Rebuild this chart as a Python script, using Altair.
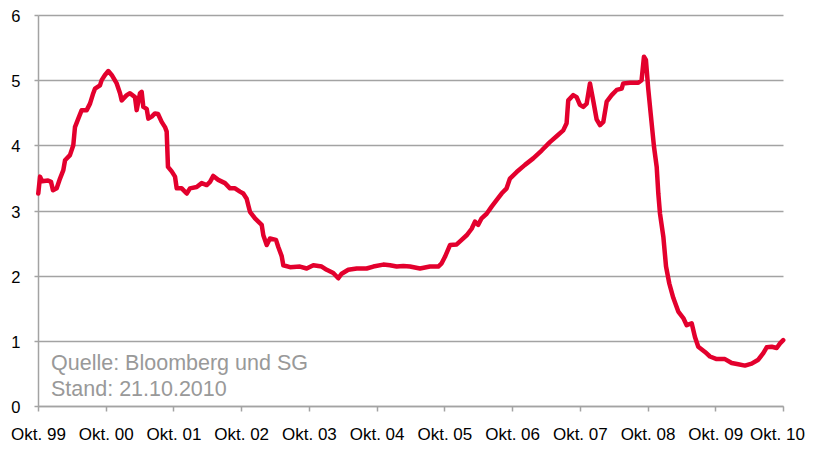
import altair as alt
import pandas as pd

# Dekade Okt. 1999 - Okt. 2010 (Jahr als Dezimalzahl) und Zinssatz in %
jahr = [
    1999.804, 1999.830, 1999.859, 1999.948, 1999.992, 2000.021, 2000.076, 2000.125,
    2000.174, 2000.199, 2000.272, 2000.321, 2000.346, 2000.395, 2000.445, 2000.519,
    2000.568, 2000.616, 2000.642, 2000.715, 2000.740, 2000.789, 2000.838, 2000.888,
    2000.962, 2001.011, 2001.036, 2001.110, 2001.158, 2001.232, 2001.257, 2001.306,
    2001.331, 2001.355, 2001.405, 2001.429, 2001.479, 2001.527, 2001.572, 2001.626,
    2001.675, 2001.700, 2001.719, 2001.774, 2001.823, 2001.848, 2001.922, 2001.996,
    2002.044, 2002.143, 2002.217, 2002.291, 2002.340, 2002.388, 2002.462, 2002.561,
    2002.635, 2002.709, 2002.782, 2002.831, 2002.881, 2002.905, 2002.930, 2003.004,
    2003.053, 2003.103, 2003.127, 2003.177, 2003.225, 2003.314, 2003.348, 2003.398,
    2003.422, 2003.521, 2003.668, 2003.767, 2003.865, 2003.989, 2004.063, 2004.160,
    2004.234, 2004.284, 2004.381, 2004.506, 2004.652, 2004.751, 2004.898, 2004.997,
    2005.096, 2005.193, 2005.292, 2005.440, 2005.587, 2005.710, 2005.760, 2005.809,
    2005.883, 2005.982, 2006.055, 2006.129, 2006.203, 2006.252, 2006.300, 2006.350,
    2006.424, 2006.498, 2006.571, 2006.645, 2006.719, 2006.768, 2006.867, 2006.990,
    2007.112, 2007.236, 2007.358, 2007.457, 2007.555, 2007.605, 2007.629, 2007.703,
    2007.753, 2007.802, 2007.851, 2007.901, 2007.950, 2007.999, 2008.048, 2008.098,
    2008.147, 2008.197, 2008.270, 2008.344, 2008.418, 2008.441, 2008.540, 2008.663,
    2008.712, 2008.747, 2008.776, 2008.810, 2008.846, 2008.895, 2008.935, 2008.959,
    2008.984, 2009.033, 2009.073, 2009.121, 2009.180, 2009.254, 2009.328, 2009.378,
    2009.452, 2009.500, 2009.549, 2009.648, 2009.722, 2009.821, 2009.943, 2010.042,
    2010.140, 2010.238, 2010.337, 2010.435, 2010.509, 2010.559, 2010.633, 2010.707,
    2010.756, 2010.803,
]
zins = [
    3.26, 3.52, 3.45, 3.46, 3.44, 3.31, 3.34, 3.49,
    3.62, 3.77, 3.85, 4.00, 4.28, 4.41, 4.54, 4.54,
    4.64, 4.80, 4.87, 4.92, 5.00, 5.08, 5.14, 5.08,
    4.95, 4.80, 4.69, 4.77, 4.80, 4.74, 4.54, 4.80,
    4.82, 4.59, 4.56, 4.41, 4.44, 4.49, 4.48, 4.36,
    4.28, 4.21, 3.67, 3.60, 3.52, 3.34, 3.34, 3.26,
    3.34, 3.36, 3.42, 3.39, 3.44, 3.53, 3.47, 3.42,
    3.34, 3.34, 3.29, 3.26, 3.18, 3.08, 2.98, 2.88,
    2.83, 2.78, 2.62, 2.47, 2.57, 2.55, 2.44, 2.30,
    2.16, 2.13, 2.14, 2.11, 2.16, 2.14, 2.09, 2.04,
    1.96, 2.03, 2.09, 2.11, 2.11, 2.14, 2.17, 2.16,
    2.14, 2.15, 2.14, 2.11, 2.14, 2.14, 2.19, 2.29,
    2.47, 2.48, 2.55, 2.62, 2.72, 2.83, 2.78, 2.88,
    2.95, 3.06, 3.16, 3.26, 3.34, 3.49, 3.59, 3.70,
    3.80, 3.92, 4.05, 4.14, 4.23, 4.34, 4.69, 4.77,
    4.74, 4.62, 4.59, 4.64, 4.95, 4.68, 4.40, 4.31,
    4.36, 4.67, 4.77, 4.85, 4.87, 4.95, 4.96, 4.96,
    5.00, 5.36, 5.31, 4.87, 4.49, 3.98, 3.67, 3.26,
    2.95, 2.60, 2.14, 1.88, 1.66, 1.45, 1.35, 1.24,
    1.27, 1.06, 0.91, 0.83, 0.76, 0.72, 0.72, 0.66,
    0.64, 0.62, 0.65, 0.71, 0.81, 0.90, 0.91, 0.89,
    0.96, 1.01,
]

x_ticks = [1999.8 + k for k in range(12)]
y_ticks = [0, 1, 2, 3, 4, 5, 6]
quelle = ["Quelle: Bloomberg und SG", "Stand: 21.10.2010"]

df = pd.DataFrame({"jahr": jahr, "zins": zins})
note_df = pd.DataFrame({"n": [0]})

FONT = "Liberation Sans"
GRID = "#a3a3a3"

line = alt.Chart(df).mark_line(
    color="#e3002d", strokeWidth=4.5, strokeJoin="round", strokeCap="round"
).encode(
    x=alt.X(
        "jahr:Q",
        scale=alt.Scale(domain=[1999.8, 2010.8], nice=False, zero=False),
        axis=alt.Axis(
            values=x_ticks,
            labelExpr="'Okt. ' + (floor(datum.value + 0.01) % 100 < 10 ? '0' : '') + (floor(datum.value + 0.01) % 100)",
            grid=False,
            title=None,
            domainColor=GRID,
            domainWidth=1.5,
            tickColor=GRID,
            tickWidth=1.5,
            tickSize=5,
            labelFont=FONT,
            labelFontSize=17,
            labelColor="#000000",
            labelPadding=15,
            labelFlush=False,
            labelOverlap=False,
            labelOffset={"condition": {"test": "datum.value > 2010", "value": -6}, "value": 0},
        ),
    ),
    y=alt.Y(
        "zins:Q",
        scale=alt.Scale(domain=[0, 6], nice=False),
        axis=alt.Axis(
            values=y_ticks,
            grid=True,
            gridColor=GRID,
            gridWidth=1.5,
            title=None,
            domainColor=GRID,
            domainWidth=1.5,
            tickColor=GRID,
            tickWidth=1.5,
            tickSize=4,
            labelFont=FONT,
            labelFontSize=16.5,
            labelColor="#000000",
            labelPadding=14,
            labelOffset=1.5,
        ),
    ),
)

text = alt.Chart(note_df).mark_text(
    align="left",
    baseline="alphabetic",
    font=FONT,
    fontSize=21.5,
    color="#999999",
    lineHeight=26,
    text=quelle,
).encode(x=alt.value(13), y=alt.value(355))

chart = alt.layer(line, text).properties(
    width=745,
    height=391,
    autosize=alt.AutoSizeParams(type="none"),
    padding={"left": 30, "top": 7, "right": 23, "bottom": 37},
).configure_view(stroke=None)

chart.save("out.html", embed_options={"renderer": "svg", "actions": False})
